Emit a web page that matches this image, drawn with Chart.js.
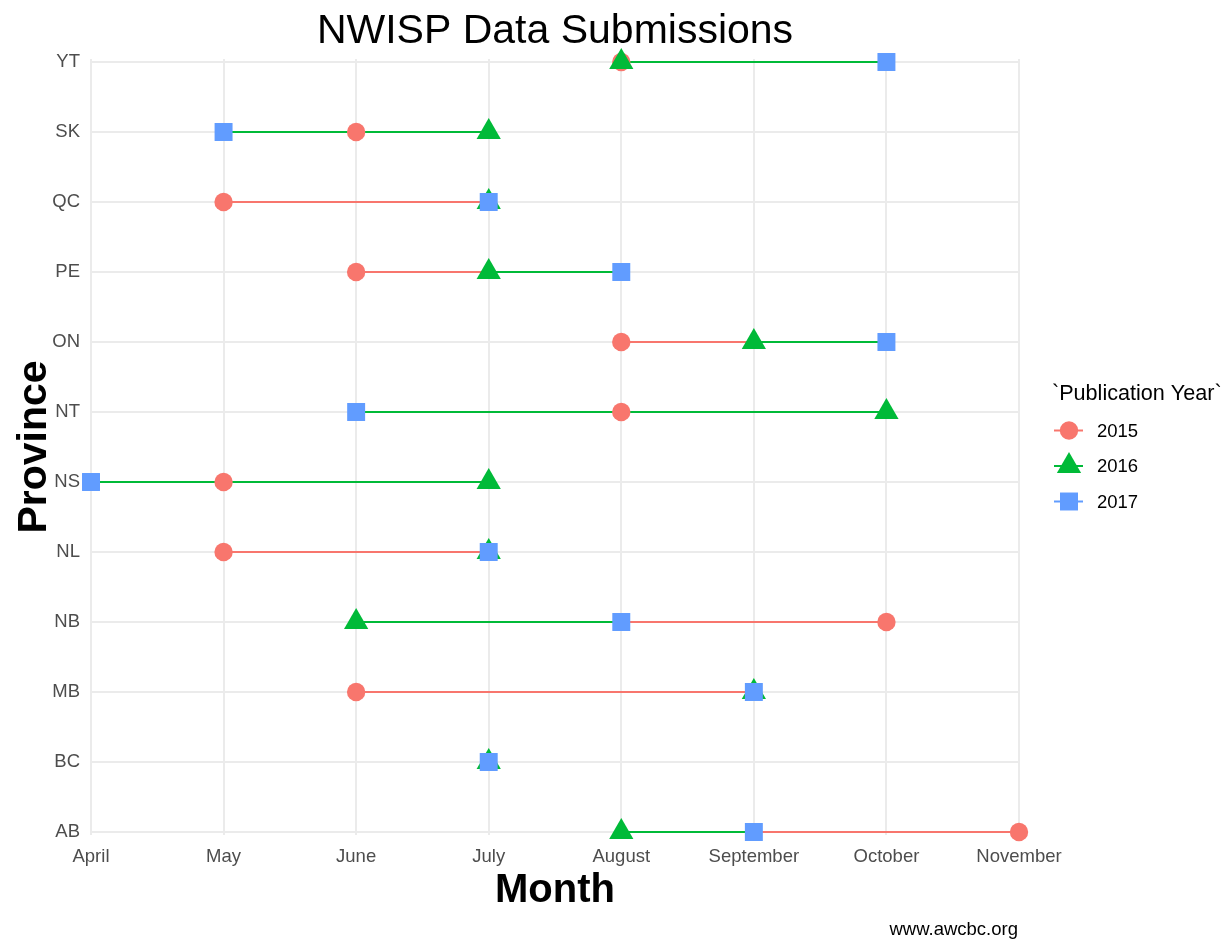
<!DOCTYPE html>
<html>
<head>
<meta charset="utf-8">
<title>NWISP Data Submissions</title>
<script src="https://cdn.jsdelivr.net/npm/chart.js@4.4.0/dist/chart.umd.min.js"></script>
<style>
    body { margin: 0; background: #fff; }
    #js--chart { display: block; }
</style>
</head>
<body>
<canvas id="js--chart" width="1232" height="939"></canvas>
<script>
const provinces = ["AB", "BC", "MB", "NB", "NL", "NS", "NT", "ON", "PE", "QC", "SK", "YT"];
const months = ["April", "May", "June", "July", "August", "September", "October", "November"];

// month of submission per province, same order as provinces
const year2015 = ["November", null, "June", "October", "May", "May", "August", "August", "June", "May", "June", "August"];
const year2016 = ["August", "July", "September", "June", "July", "July", "October", "September", "July", "July", "July", "August"];
const year2017 = ["September", "July", "September", "August", "July", "April", "June", "October", "August", "July", "May", "October"];

const years = ["2015", "2016", "2017"];
const yearData = [year2015, year2016, year2017];

const red = "#F8766D";
const green = "#00BA38";
const blue = "#619CFF";
const colors = [red, green, blue];
const shapes = ["circle", "triangle", "rect"];
const sizes = [9.2, 14, 12.7];

const font = '"Liberation Sans", Arial, sans-serif';
Chart.defaults.font.family = font;

function monthIndex(m) {
    return m === null ? null : months.indexOf(m);
}

// one path per province: 2015 -> 2016 -> 2017, segment coloured by its first point
let paths = provinces.map((p, i) => ({
    type: "line",
    label: p,
    data: yearData.map(y => ({x: monthIndex(y[i]), y: i})),
    borderColor: red,
    borderWidth: 2,
    pointRadius: 0,
    spanGaps: false,
    clip: false,
    order: 10,
    segment: {
        borderColor: ctx => ctx.p0DataIndex === 0 ? red : green
    }
}));

let points = years.map((year, k) => ({
    type: "scatter",
    label: year,
    data: provinces.map((p, i) => ({x: monthIndex(yearData[k][i]), y: i})).filter(d => d.x !== null),
    pointStyle: shapes[k],
    pointRadius: sizes[k],
    pointBackgroundColor: colors[k],
    pointBorderWidth: 0,
    backgroundColor: colors[k],
    borderColor: colors[k],
    clip: false,
    order: 3 - k
}));

const decor = {
    id: "decor",
    afterDraw(chart) {
        const ctx = chart.ctx;
        const area = chart.chartArea;
        ctx.save();

        ctx.fillStyle = "#000";
        ctx.textBaseline = "alphabetic";
        ctx.textAlign = "center";
        ctx.font = "41px " + font;
        ctx.fillText("NWISP Data Submissions", (area.left + area.right) / 2, 43);

        ctx.textAlign = "right";
        ctx.font = "18.5px " + font;
        ctx.fillText("www.awcbc.org", area.right - 1, 935);

        // legend
        ctx.textAlign = "left";
        ctx.font = "21.6px " + font;
        ctx.fillText("`Publication Year`", area.right + 33, 400);

        years.forEach((year, k) => {
            let y = 430.5 + k * 35.5;
            let cx = area.right + 50;
            ctx.strokeStyle = colors[k];
            ctx.lineWidth = 2;
            ctx.beginPath();
            ctx.moveTo(area.right + 35, y);
            ctx.lineTo(area.right + 64, y);
            ctx.stroke();
            ctx.fillStyle = colors[k];
            Chart.helpers.drawPoint(ctx, {pointStyle: shapes[k], radius: sizes[k], borderWidth: 0, rotation: 0}, cx, y);
            ctx.fillStyle = "#000";
            ctx.textBaseline = "middle";
            ctx.font = "18.5px " + font;
            ctx.fillText(year, area.right + 78, y + 1);
        });

        ctx.restore();
    }
};

const config = {
    data: {
        datasets: paths.concat(points)
    },
    options: {
        responsive: false,
        animation: false,
        devicePixelRatio: 1,
        events: [],
        layout: {
            padding: {top: 59, right: 213, bottom: 24, left: 0}
        },
        plugins: {
            legend: {display: false},
            tooltip: {enabled: false},
            title: {display: false}
        },
        scales: {
            x: {
                type: "linear",
                min: 0,
                max: 7,
                afterFit: axis => { axis.height = 80; },
                grid: {color: "#EBEBEB", lineWidth: 2, drawTicks: false},
                border: {display: false},
                ticks: {
                    stepSize: 1,
                    maxRotation: 0,
                    autoSkip: false,
                    padding: 11,
                    color: "#4D4D4D",
                    font: {size: 18.5},
                    callback: v => months[v]
                },
                title: {
                    display: true,
                    text: "Month",
                    color: "#000",
                    font: {size: 40, weight: "bold"},
                    padding: {top: 0, bottom: 0}
                }
            },
            y: {
                type: "linear",
                min: -3 / 70,
                max: 11 + 3 / 70,
                afterFit: axis => { axis.width = 91; },
                afterBuildTicks: axis => {
                    axis.ticks = provinces.map((p, i) => ({value: i}));
                },
                grid: {color: "#EBEBEB", lineWidth: 2, drawTicks: false},
                border: {display: false},
                ticks: {
                    autoSkip: false,
                    padding: 11,
                    color: "#4D4D4D",
                    font: {size: 18.5},
                    callback: v => provinces[v]
                },
                title: {
                    display: true,
                    text: "Province",
                    color: "#000",
                    font: {size: 41, weight: "bold"},
                    padding: {top: 10, bottom: 0}
                }
            }
        }
    },
    plugins: [decor]
};

const chart = new Chart(document.getElementById("js--chart"), config);
</script>
</body>
</html>
